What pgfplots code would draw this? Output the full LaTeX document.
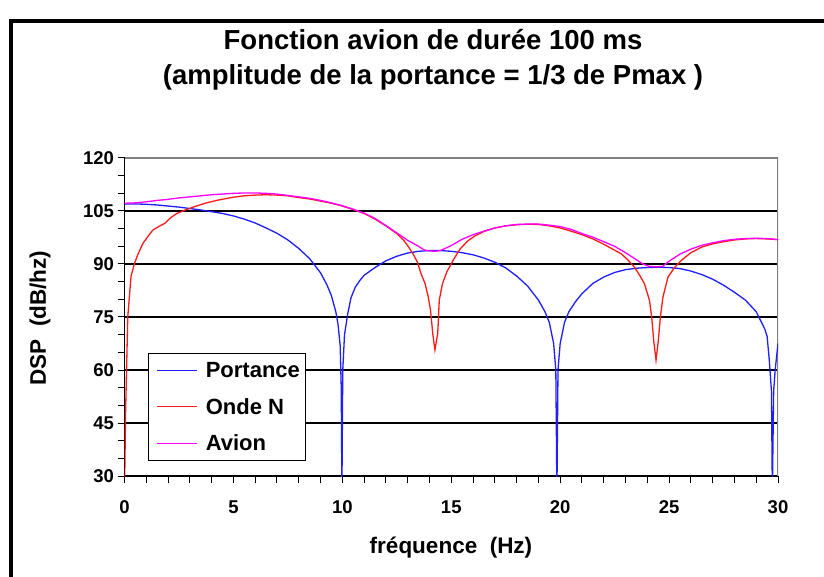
\documentclass[border=0pt]{standalone}
\usepackage{fontspec}
\setmainfont{Liberation Sans}
\usepackage{pgfplots}
\pgfplotsset{compat=1.18}

\definecolor{colPortance}{RGB}{30,30,255}
\definecolor{colOnde}{RGB}{255,25,25}
\definecolor{colAvion}{RGB}{255,0,255}

\begin{document}
\begin{tikzpicture}[x=1pt,y=1pt]
\useasboundingbox (0,0) rectangle (824,576);
\fill[white] (0,0) rectangle (824,576);
% chart area frame (cut by the picture edge on the right and at the bottom)
\draw[line width=3.5pt] (11,-10) -- (11,555) -- (834,555);

\node[font=\fontsize{27.5}{32}\selectfont\bfseries] at (433,536) {Fonction avion de durée 100 ms};
\node[font=\fontsize{27.5}{32}\selectfont\bfseries] at (433,499) {(amplitude de la portance = 1/3 de Pmax )};
\node[font=\fontsize{22.5}{26}\selectfont\bfseries, rotate=90] at (40,258) {DSP\ \ (dB/hz)};
\node[font=\fontsize{22.5}{26}\selectfont\bfseries] at (451,28) {fréquence\ \ (Hz)};

\begin{axis}[
  at={(124.5pt,100pt)}, anchor=south west,
  scale only axis, width=653.5pt, height=318pt,
  xmin=0, xmax=30, ymin=30, ymax=120,
  axis x line*=bottom, axis y line*=left,
  axis line style={black, line width=1.2pt},
  xtick={0,5,...,30}, minor xtick={0,1,...,30},
  ytick={30,45,...,120}, minor ytick={30,35,...,120},
  tick align=outside, major tick length=7pt, minor tick length=7pt,
  tick style={black, line width=1pt},
  ymajorgrids, major grid style={black, line width=1.5pt},
  /pgf/number format/assume math mode=true,
  ticklabel style={font=\fontsize{18.5}{22}\selectfont\bfseries},
  xticklabel style={yshift=-14pt},
  legend style={at={(0.036,0.387)}, anchor=north west, draw=black, line width=1pt,
    fill=white, font=\fontsize{22}{26}\selectfont\bfseries,
    row sep=15pt, inner xsep=4pt, inner ysep=7pt},
  legend cell align=left,
  legend image code/.code={
    \path (0pt,0pt) (50pt,0pt);
    \draw[#1] (4pt,0pt) -- (44pt,0pt);},
]
\draw[gray, line width=1.5pt] (rel axis cs:0,1) -- (rel axis cs:1,1) -- (rel axis cs:1,0);

\addlegendimage{color=colPortance, line width=1.3pt}
\addlegendimage{color=colOnde, line width=1.3pt}
\addlegendimage{color=colAvion, line width=1.3pt}
\legend{Portance, Onde N, Avion}

% Portance
\addplot[color=colPortance, line width=1.3pt, forget plot] coordinates {
(0,107.0) (0.5,107.0) (1,106.9) (1.5,106.7) (2,106.4) (2.5,106.1) (3,105.7)
(3.5,105.3) (4,104.8) (4.5,104.3) (5,103.6) (5.5,102.7) (6,101.6) (6.5,100.2)
(7,98.7) (7.5,96.8) (8,94.4) (8.5,91.5) (9,87.5) (9.3,84) (9.5,81) (9.7,76.5)
(9.8,73) (9.9,67) (9.95,55) (9.98,25) (10.02,60) (10.1,70) (10.25,76)
(10.4,80.5) (10.6,83.5) (10.8,85.3) (11,86.8) (11.5,89) (12,90.9) (12.5,92.2)
(13,93.1) (13.5,93.6) (14,93.8) (14.5,93.8) (15,93.6) (15.5,93.2) (16,92.6)
(16.5,91.7) (17,90.5) (17.5,88.9) (18,86.6) (18.5,83.8) (19,79.8) (19.3,76.5)
(19.5,73.5) (19.7,67.5) (19.8,60) (19.85,25) (19.9,60) (20.0,67.5) (20.2,73.5)
(20.4,76.5) (20.7,79.3) (21,81.6) (21.5,84.5) (22,86.3) (22.5,87.6) (23,88.4)
(23.5,88.8) (24,89.0) (24.5,89.1) (25,89.0) (25.5,88.7) (26,88.0) (26.5,87.0)
(27,85.7) (27.5,84.0) (28,82.0) (28.5,79.8) (29,76.5) (29.2,74) (29.4,71.5)
(29.5,69.5) (29.6,62.8) (29.7,54) (29.74,25) (29.8,54) (29.87,60) (30,67.5)
};

% Onde N
\addplot[color=colOnde, line width=1.3pt, forget plot] coordinates {
(0,25) (0.05,48) (0.15,75) (0.3,86.5) (0.46,90.2) (0.6,92.5) (0.85,95.9)
(1.1,98) (1.3,99.6) (1.6,100.7) (1.85,101.5) (2.1,103) (2.4,104.3) (2.8,105.3)
(3.2,106.2) (3.7,107.2) (4.3,108.1) (5.0,108.9) (5.5,109.3) (6,109.5)
(6.5,109.6) (7,109.5) (7.5,109.3) (8,108.8) (8.5,108.4) (9,107.8) (9.5,107.2)
(10,106.4) (10.5,105.4) (11,104.3) (11.5,102.7) (12,100.8) (12.5,98.6)
(12.8,96.8) (13,95.2) (13.25,92.8) (13.45,90.5) (13.6,87.5) (13.8,84.4)
(13.95,80.5) (14.05,76.8) (14.15,70.4) (14.25,65.7) (14.38,70.4) (14.45,79.8)
(14.6,84.5) (14.8,87.8) (15.1,91.2) (15.4,94.2) (15.75,96.5) (16.1,98)
(16.5,99.2) (17,100.2) (17.5,100.8) (18,101.1) (18.5,101.25) (19,101.2)
(19.5,100.8) (20,100.2) (20.5,99.3) (21,98.3) (21.5,97.1) (22,95.6) (22.5,93.9)
(22.8,92.9) (23.1,91.2) (23.4,89.2) (23.65,86.8) (23.87,84.4) (24.1,79.7)
(24.2,75) (24.3,68) (24.4,62.8) (24.5,68) (24.6,75) (24.72,80.7) (24.95,86.3)
(25.25,89) (25.56,91.0) (26,93.2) (26.5,94.8) (27,95.7) (27.5,96.3) (28,96.8)
(28.5,97.1) (29,97.2) (29.5,97.1) (30,96.9)
};

% Avion
\addplot[color=colAvion, line width=1.3pt, forget plot] coordinates {
(0,107.2) (0.5,107.3) (1,107.6) (1.5,108.0) (2,108.3) (2.5,108.7) (3,109.0)
(3.5,109.3) (4,109.6) (4.5,109.8) (5,110.0) (5.5,110.1) (6,110.1) (6.5,110.0)
(7,109.8) (7.5,109.4) (8,109.0) (8.5,108.6) (9,108.0) (9.5,107.3) (10,106.5)
(10.5,105.5) (11,104.4) (11.5,102.9) (12,100.9) (12.5,98.8) (13,96.7)
(13.5,95.0) (13.75,94.0) (14,93.7) (14.25,93.6) (14.5,93.8) (14.75,94.5)
(15,95.2) (15.5,97.0) (16,98.3) (16.5,99.3) (17,100.2) (17.5,100.8) (18,101.2)
(18.5,101.3) (19,101.3) (19.5,101.0) (20,100.6) (20.5,99.8) (21,98.6)
(21.5,97.6) (22,96.3) (22.5,95.0) (23,93.2) (23.5,91.2) (23.8,90.0) (24.1,89.3)
(24.4,89.2) (24.7,89.3) (25,90.8) (25.5,92.8) (26,94.2) (26.5,95.3) (27,96.0)
(27.5,96.6) (28,97.0) (28.5,97.2) (29,97.3) (29.5,97.2) (30,96.9)
};
\end{axis}
\end{tikzpicture}
\end{document}
